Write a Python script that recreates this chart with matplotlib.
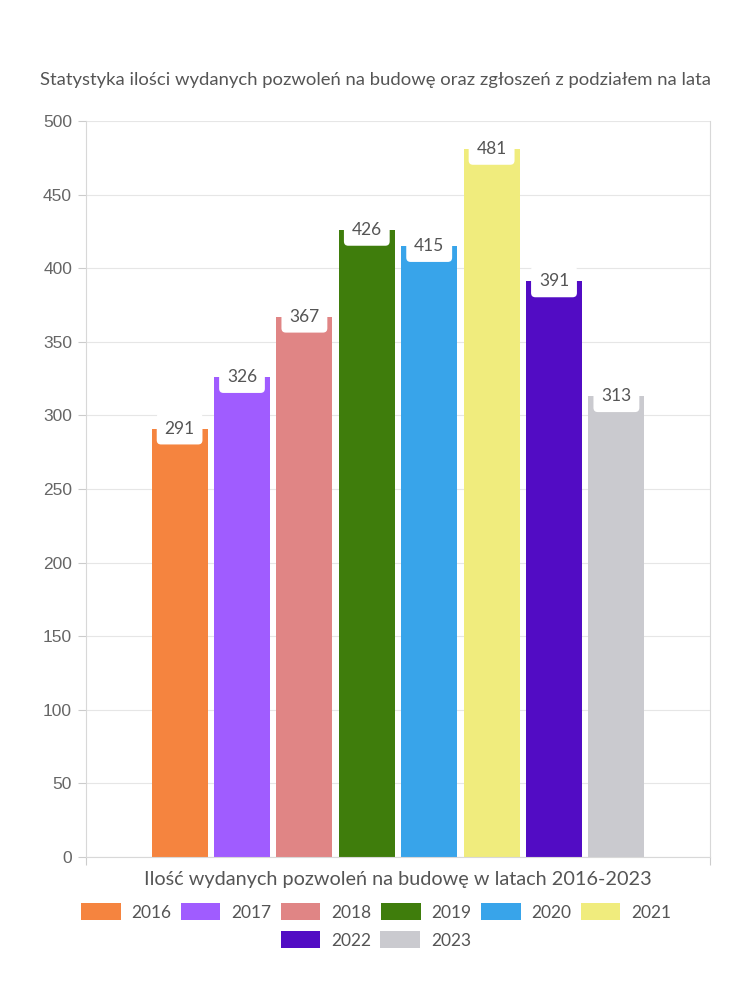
import matplotlib
matplotlib.use('Agg')
import matplotlib.pyplot as plt
from matplotlib.patches import Patch

# Dane
lata = ['2016', '2017', '2018', '2019', '2020', '2021', '2022', '2023']
pozwolenia = [291, 326, 367, 426, 415, 481, 391, 313]
kolory = ['#f5843f', '#a05cff', '#e08585', '#3f7d0c', '#38a4ea', '#f0ec7d', '#520cc4', '#cacacf']
y_ticks = [0, 50, 100, 150, 200, 250, 300, 350, 400, 450, 500]

plt.rcParams['font.family'] = ['Lato', 'DejaVu Sans']
tekst_kolor = '#555555'
siatka = '#e6e6e6'

fig = plt.figure(figsize=(7.5, 10), dpi=100)
ax = fig.add_axes([86 / 750, 143 / 1000, 624 / 750, 736 / 1000])

pozycje = [i + 1.5 for i in range(len(lata))]
ax.bar(pozycje, pozwolenia, width=0.9, color=kolory, zorder=2)

# Etykiety wartości w białych ramkach
for x, v in zip(pozycje, pozwolenia):
    ax.text(x, v, str(v), ha='center', va='center', fontsize=12.5, color=tekst_kolor,
            zorder=3, bbox=dict(boxstyle='round,pad=0.45,rounding_size=0.25', fc='white', ec='none'))

ax.set_xlim(0, 10)
ax.set_ylim(0, 500)
ax.set_yticks(y_ticks)
ax.set_yticklabels([str(t) for t in y_ticks], family=['Liberation Sans', 'DejaVu Sans'],
                   fontsize=12.5, color='#666666')
ax.tick_params(axis='y', length=6, color='#cccccc', pad=4)
ax.set_xticks([0, 10])
ax.set_xticklabels(['', ''])
ax.tick_params(axis='x', length=6, color='#cccccc')
ax.grid(axis='y', color=siatka, linewidth=0.8, zorder=0)
for s in ['left', 'bottom', 'right']:
    ax.spines[s].set_color('#d8d8d8')
    ax.spines[s].set_linewidth(0.8)
ax.spines['top'].set_visible(False)

fig.text(0.5, 0.92, 'Statystyka ilości wydanych pozwoleń na budowę oraz zgłoszeń z podziałem na lata',
         ha='center', va='center', fontsize=13.3, color=tekst_kolor)
fig.text(0.531, 0.12, 'Ilość wydanych pozwoleń na budowę w latach 2016-2023',
         ha='center', va='center', fontsize=14.3, color=tekst_kolor)

# Legenda w dwóch rzędach, wyśrodkowana
uchwyty = [Patch(facecolor=c, edgecolor='none') for c in kolory]
wspolne = dict(frameon=False, fontsize=12.5, handlelength=2.3, handleheight=1.1,
               columnspacing=0.55, handletextpad=0.6, labelcolor=tekst_kolor)
fig.legend(uchwyty[:6], lata[:6], ncol=6, loc='center', bbox_to_anchor=(0.501, 0.088), **wspolne)
fig.legend(uchwyty[6:], lata[6:], ncol=2, loc='center', bbox_to_anchor=(0.501, 0.06), **wspolne)

fig.savefig('out.png', dpi=100, facecolor='white')
